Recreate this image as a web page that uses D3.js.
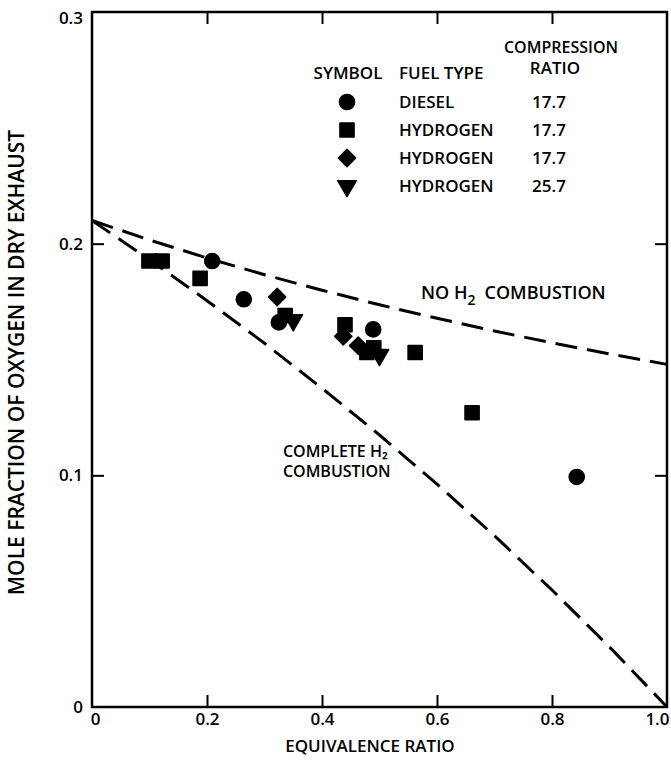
<!DOCTYPE html>
<html><head><meta charset="utf-8">
<script src="https://cdn.jsdelivr.net/npm/d3@7"></script>
<style>
body{margin:0;background:#fff}
text{font-family:"Open Sans",sans-serif;font-weight:600;fill:#000}
</style>
</head><body><svg id="c" width="671" height="763"></svg>
<script>
// ---- data ----
const xTicks=[0,0.2,0.4,0.6,0.8,1.0];
const xTickLabels=["0","0.2","0.4","0.6","0.8","1.0"];
const yTicks=[0,0.1,0.2,0.3];
const yTickLabels=["0","0.1","0.2","0.3"];

const dieselPhi=[0.209,0.264,0.325,0.489,0.843];
const dieselO2=[0.1925,0.176,0.166,0.163,0.0993];
const sqPhi=[0.099,0.122,0.188,0.336,0.44,0.478,0.49,0.562,0.661];
const sqO2=[0.1925,0.1925,0.185,0.169,0.165,0.153,0.155,0.153,0.127];
const diaPhi=[0.322,0.437,0.463];
const diaO2=[0.177,0.160,0.156];
const triPhi=[0.35,0.50];
const triO2=[0.167,0.152];

const curvePhi=[0,0.1,0.2,0.3,0.4,0.5,0.6,0.7,0.8,0.9,1.0];
const noCombO2=[0.210,0.2016,0.1938,0.1866,0.1799,0.1736,0.1678,0.1623,0.1572,0.1524,0.1479];
const completeO2=[0.210,0.1931,0.1754,0.1570,0.1376,0.1174,0.0962,0.0739,0.0505,0.0259,0.0];

const legendSymbols=["circle","square","diamond","triangle"];
const legendFuel=["DIESEL","HYDROGEN","HYDROGEN","HYDROGEN"];
const legendCR=["17.7","17.7","17.7","25.7"];

// ---- layout ----
const svg=d3.select("#c");
const L=92,R=667,T=12,B=707;
const FS="17px";
const x=d3.scaleLinear().domain([0,1]).range([L,R]);
const y=d3.scaleLinear().domain([0,0.3]).range([B,T]);

const shapes={
  circle:{type:d3.symbolCircle,size:180,rot:0},
  square:{type:d3.symbolSquare,size:200,rot:0},
  diamond:{type:d3.symbolSquare,size:150,rot:45},
  triangle:{type:d3.symbolTriangle,size:150,rot:180}
};
function mark(g,kind,px,py){
  const s=shapes[kind];
  g.append("path").attr("d",d3.symbol().type(s.type).size(s.size)())
   .attr("transform",`translate(${px},${py}) rotate(${s.rot})`)
   .attr("fill","#000").attr("stroke","#000").attr("stroke-width",1.5).attr("stroke-linejoin","round");
}

// frame
svg.append("rect").attr("x",L).attr("y",T).attr("width",R-L).attr("height",B-T)
  .attr("fill","none").attr("stroke","#000").attr("stroke-width",2.5);

// axes (ticks inward)
const ax=svg.append("g").attr("transform",`translate(0,${B})`)
  .call(d3.axisBottom(x).tickValues(xTicks).tickFormat((d,i)=>xTickLabels[i]).tickSize(-12).tickPadding(6));
const axT=svg.append("g").attr("transform",`translate(0,${T})`)
  .call(d3.axisTop(x).tickValues(xTicks.slice(1,-1)).tickFormat("").tickSize(-12));
const ay=svg.append("g").attr("transform",`translate(${L},0)`)
  .call(d3.axisLeft(y).tickValues(yTicks).tickFormat((d,i)=>yTickLabels[i]).tickSize(-12));
const ayR=svg.append("g").attr("transform",`translate(${R},0)`)
  .call(d3.axisRight(y).tickValues(yTicks.slice(1,-1)).tickFormat("").tickSize(-12));
[ax,axT,ay,ayR].forEach(g=>{
  g.select(".domain").remove();
  g.selectAll(".tick line").attr("stroke","#000").attr("stroke-width",2);
  g.selectAll(".tick text").style("font-size",FS).attr("fill","#000");
});
ax.selectAll(".tick").filter(d=>d===0||d===1).select("line").remove();
ax.selectAll(".tick").filter(d=>d===1).select("text").attr("text-anchor","end").attr("x",2);
ax.selectAll(".tick").filter(d=>d===0).select("text").attr("x",3);
ay.selectAll(".tick").filter(d=>d===0||d===0.3).select("line").remove();
ay.selectAll(".tick text").attr("x",-9);
ay.selectAll(".tick").filter(d=>d===0.3).select("text").attr("dy","0.65em");

// axis titles
svg.append("text").attr("x",370).attr("y",752).attr("text-anchor","middle")
  .style("font-size","17px").text("EQUIVALENCE RATIO");
svg.append("text").attr("transform",`translate(24,${(T+B)/2+3}) rotate(-90)`).attr("text-anchor","middle")
  .style("font-size","21px").text("MOLE FRACTION OF OXYGEN IN DRY EXHAUST");

// curves
const line=d3.line().x((d,i)=>x(curvePhi[i])).y(d=>y(d));
[noCombO2,completeO2].forEach(arr=>{
  svg.append("path").attr("d",line(arr)).attr("fill","none").attr("stroke","#000")
    .attr("stroke-width",3).attr("stroke-dasharray","22,10");
});

// curve labels
const lab1=svg.append("text").attr("x",421).attr("y",y(0.176)).style("font-size","18px");
lab1.append("tspan").text("NO H");
lab1.append("tspan").attr("dy",6).style("font-size","14px").text("2");
lab1.append("tspan").attr("dy",-6).attr("dx",9).text("COMBUSTION");
const lab2=svg.append("text").attr("x",x(0.332)).attr("y",y(0.108)).style("font-size","16px");
lab2.append("tspan").text("COMPLETE H\u2082");
lab2.append("tspan").attr("x",x(0.332)).attr("dy",20).text("COMBUSTION");

// data marks
const gm=svg.append("g");
dieselPhi.forEach((p,i)=>mark(gm,"circle",x(p),y(dieselO2[i])));
sqPhi.forEach((p,i)=>mark(gm,"square",x(p),y(sqO2[i])));
diaPhi.forEach((p,i)=>mark(gm,"diamond",x(p),y(diaO2[i])));
triPhi.forEach((p,i)=>mark(gm,"triangle",x(p),y(triO2[i])));

// legend
const lg=svg.append("g");
lg.append("text").attr("x",348).attr("y",79).attr("text-anchor","middle").style("font-size",FS).text("SYMBOL");
lg.append("text").attr("x",399).attr("y",79).style("font-size",FS).text("FUEL TYPE");
lg.append("text").attr("x",561).attr("y",53).attr("text-anchor","middle").style("font-size","16px").text("COMPRESSION");
lg.append("text").attr("x",555).attr("y",74).attr("text-anchor","middle").style("font-size",FS).text("RATIO");
const rowY=[102,130,158,186];
legendSymbols.forEach((s,i)=>{
  mark(lg,s,347,rowY[i]);
  lg.append("text").attr("x",399).attr("y",rowY[i]+6).style("font-size",FS).text(legendFuel[i]);
  lg.append("text").attr("x",549).attr("y",rowY[i]+6).attr("text-anchor","middle").style("font-size",FS).text(legendCR[i]);
});
</script>
</body></html>
